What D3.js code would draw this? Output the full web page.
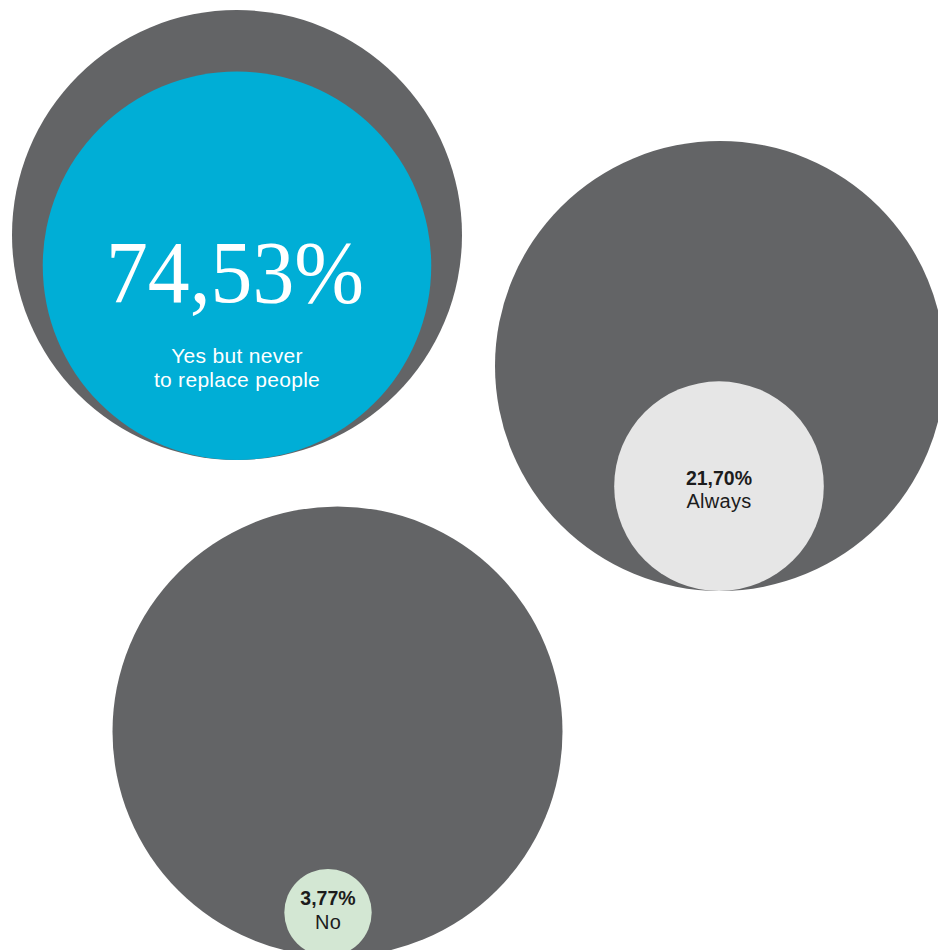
<!DOCTYPE html>
<html>
<head>
<meta charset="utf-8">
<script src="https://cdn.jsdelivr.net/npm/d3@7/dist/d3.min.js"></script>
<style>
  html, body { margin: 0; padding: 0; background: #ffffff; }
  svg { display: block; }
</style>
</head>
<body>
<svg id="chart" width="938" height="950"></svg>
<script>
// Survey answers: share of respondents per answer (percent)
const categories = ["Yes but never to replace people", "Always", "No"];
const categoryLines = [["Yes but never", "to replace people"], ["Always"], ["No"]];
const values = [74.53, 21.70, 3.77];

// Visual styling per bubble
const fills = ["#00aed6", "#e6e6e6", "#d3e7d3"];
const textColors = ["#ffffff", "#1c1c1c", "#1c1c1c"];

// Bubble placement (outer circle centers) and label offsets
const centers = [[237, 235], [720, 366], [337.5, 731.5]];
const innerShiftX = [0, -1, -9.5];
const valueDy = [36, -1, -7.5];
const nameDy = [97, 22, 16.5];

const svg = d3.select("#chart");
const R = 225;
// Area-true radius: the full outer circle stands for 100%
const r = d3.scaleSqrt().domain([0, 100]).range([0, R]);

const fmt = v => d3.format(".2f")(v).replace(".", ",") + "%";

const groups = svg.selectAll("g.bubble")
  .data(values.map((v, i) => ({ v, i, name: categories[i] })))
  .join("g")
  .attr("class", "bubble");

// Outer circle (100%)
groups.append("circle")
  .attr("cx", d => centers[d.i][0])
  .attr("cy", d => centers[d.i][1])
  .attr("r", r(100))
  .attr("fill", "#636466");

// Inner circle, resting on the bottom of the outer circle
function innerPos(d) {
  const ri = r(d.v);
  const dx = innerShiftX[d.i];
  const dist = r(100) - ri;
  const dy = Math.sqrt(Math.max(0, dist * dist - dx * dx));
  return [centers[d.i][0] + dx, centers[d.i][1] + dy, ri];
}

groups.append("circle")
  .attr("cx", d => innerPos(d)[0])
  .attr("cy", d => innerPos(d)[1])
  .attr("r", d => innerPos(d)[2])
  .attr("fill", d => fills[d.i]);

// Value and answer labels
groups.each(function (d) {
  const g = d3.select(this);
  const [cx, cy] = innerPos(d);
  if (d.i === 0) {
    g.append("text")
      .attr("x", cx - 2)
      .attr("y", cy + valueDy[d.i])
      .attr("text-anchor", "middle")
      .attr("font-family", "'Liberation Serif', 'DejaVu Serif', serif")
      .attr("font-size", 88)
      .attr("textLength", 258)
      .attr("lengthAdjust", "spacingAndGlyphs")
      .attr("fill", textColors[d.i])
      .text(fmt(d.v));
  } else {
    g.append("text")
      .attr("x", cx)
      .attr("y", cy + valueDy[d.i])
      .attr("text-anchor", "middle")
      .attr("font-family", "'Liberation Sans', Arial, sans-serif")
      .attr("font-weight", "bold")
      .attr("font-size", 19.5)
      .attr("fill", textColors[d.i])
      .text(fmt(d.v));
  }
  const name = g.append("text")
    .attr("text-anchor", "middle")
    .attr("font-family", "'Liberation Sans', Arial, sans-serif")
    .attr("font-size", d.i === 0 ? 21 : 20)
    .attr("letter-spacing", 0.3)
    .attr("fill", textColors[d.i]);
  categoryLines[d.i].forEach((line, k) => {
    name.append("tspan")
      .attr("x", cx)
      .attr("y", cy + nameDy[d.i] + k * 24)
      .text(line);
  });
});
</script>
</body>
</html>
